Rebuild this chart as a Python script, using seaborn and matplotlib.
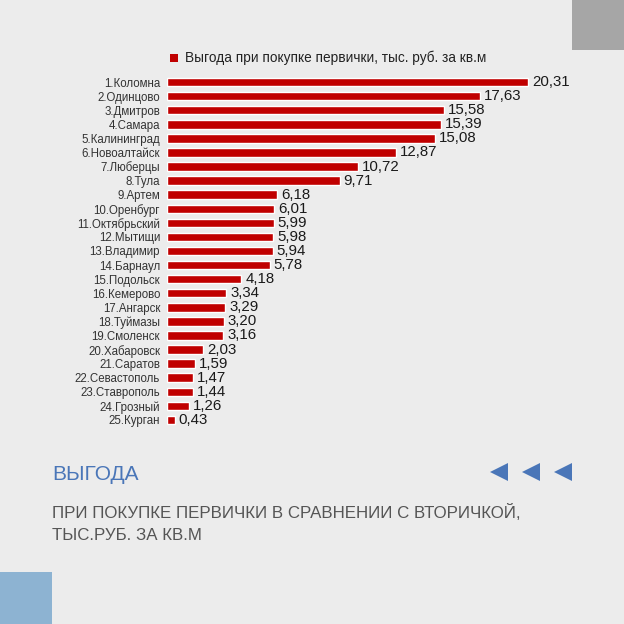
import matplotlib
matplotlib.use("Agg")
import matplotlib.pyplot as plt
import matplotlib.patches as mpatches
import seaborn as sns
import pandas as pd

cities = ["1.Коломна", "2.Одинцово", "3.Дмитров", "4.Самара", "5.Калининград",
          "6.Новоалтайск", "7.Люберцы", "8.Тула", "9.Артем", "10.Оренбург",
          "11.Октябрьский", "12.Мытищи", "13.Владимир", "14.Барнаул", "15.Подольск",
          "16.Кемерово", "17.Ангарск", "18.Туймазы", "19.Смоленск", "20.Хабаровск",
          "21.Саратов", "22.Севастополь", "23.Ставрополь", "24.Грозный", "25.Курган"]
values = [20.31, 17.63, 15.58, 15.39, 15.08, 12.87, 10.72, 9.71, 6.18, 6.01,
          5.99, 5.98, 5.94, 5.78, 4.18, 3.34, 3.29, 3.20, 3.16, 2.03,
          1.59, 1.47, 1.44, 1.26, 0.43]
legend_label = "Выгода при покупке первички, тыс. руб. за кв.м"
title_text = "ВЫГОДА"
subtitle_lines = ["ПРИ ПОКУПКЕ ПЕРВИЧКИ В СРАВНЕНИИ С ВТОРИЧКОЙ,", "ТЫС.РУБ. ЗА КВ.М"]

sns.set_theme(style="white")
plt.rcParams['font.family'] = ['Arial', 'Liberation Sans', 'DejaVu Sans']

W = H = 624
fig = plt.figure(figsize=(6.24, 6.24), dpi=100)
fig.patch.set_facecolor("#ececec")

# decorative squares
fig.add_artist(mpatches.Rectangle((572 / W, 1 - 50 / H), 52 / W, 50 / H,
                                  transform=fig.transFigure, color="#a6a6a6", lw=0))
fig.add_artist(mpatches.Rectangle((0, 0), 52 / W, 52 / H,
                                  transform=fig.transFigure, color="#8db3d2", lw=0))

left_px, right_px = 167, 560
top_px, bot_px = 75, 427
ax = fig.add_axes([left_px / W, 1 - bot_px / H, (right_px - left_px) / W, (bot_px - top_px) / H])
ax.set_facecolor("none")

df = pd.DataFrame({"city": cities, "value": values})
sns.barplot(data=df, y="city", x="value", orient="h", color="#c00000",
            width=0.6, ax=ax, saturation=1)
xmax = (right_px - left_px) / 17.78
ax.set_xlim(0, xmax)
ax.set_ylim(len(cities) - 0.5, -0.5)
for s in ax.spines.values():
    s.set_visible(False)
ax.set_xticks([])
ax.set_xlabel("")
ax.set_ylabel("")
ax.tick_params(axis="y", length=0, pad=5, labelsize=8.3, labelcolor="#333333")

for i, v in enumerate(values):
    ax.text(v + 0.22, i, f"{v:.2f}".replace(".", ","), va="center", ha="left",
            fontsize=10.8, color="#1a1a1a")

# legend
fig.add_artist(mpatches.Rectangle((170 / W, 1 - 62 / H), 8 / W, 8 / H,
                                  transform=fig.transFigure, color="#c00000", lw=0))
fig.text(185 / W, 1 - 58 / H, legend_label, fontsize=9.8, color="#222222", va="center", ha="left")

# title and subtitle
fig.text(52 / W, 1 - 474 / H, title_text, fontsize=15, color="#4a76b8", va="center", ha="left")
fig.text(52 / W, 1 - 512 / H, subtitle_lines[0], fontsize=12.2, color="#555555", va="center", ha="left")
fig.text(52 / W, 1 - 536 / H, subtitle_lines[1], fontsize=12.2, color="#555555", va="center", ha="left")

# triangles
for cx in [499, 531, 563]:
    pts = [((x) / W, 1 - y / H) for x, y in [(cx - 9, 472), (cx + 9, 463), (cx + 9, 481)]]
    fig.add_artist(mpatches.Polygon(pts, closed=True, transform=fig.transFigure,
                                    color="#4a76b8", lw=0))

fig.savefig("out.png", dpi=100, facecolor=fig.get_facecolor())
